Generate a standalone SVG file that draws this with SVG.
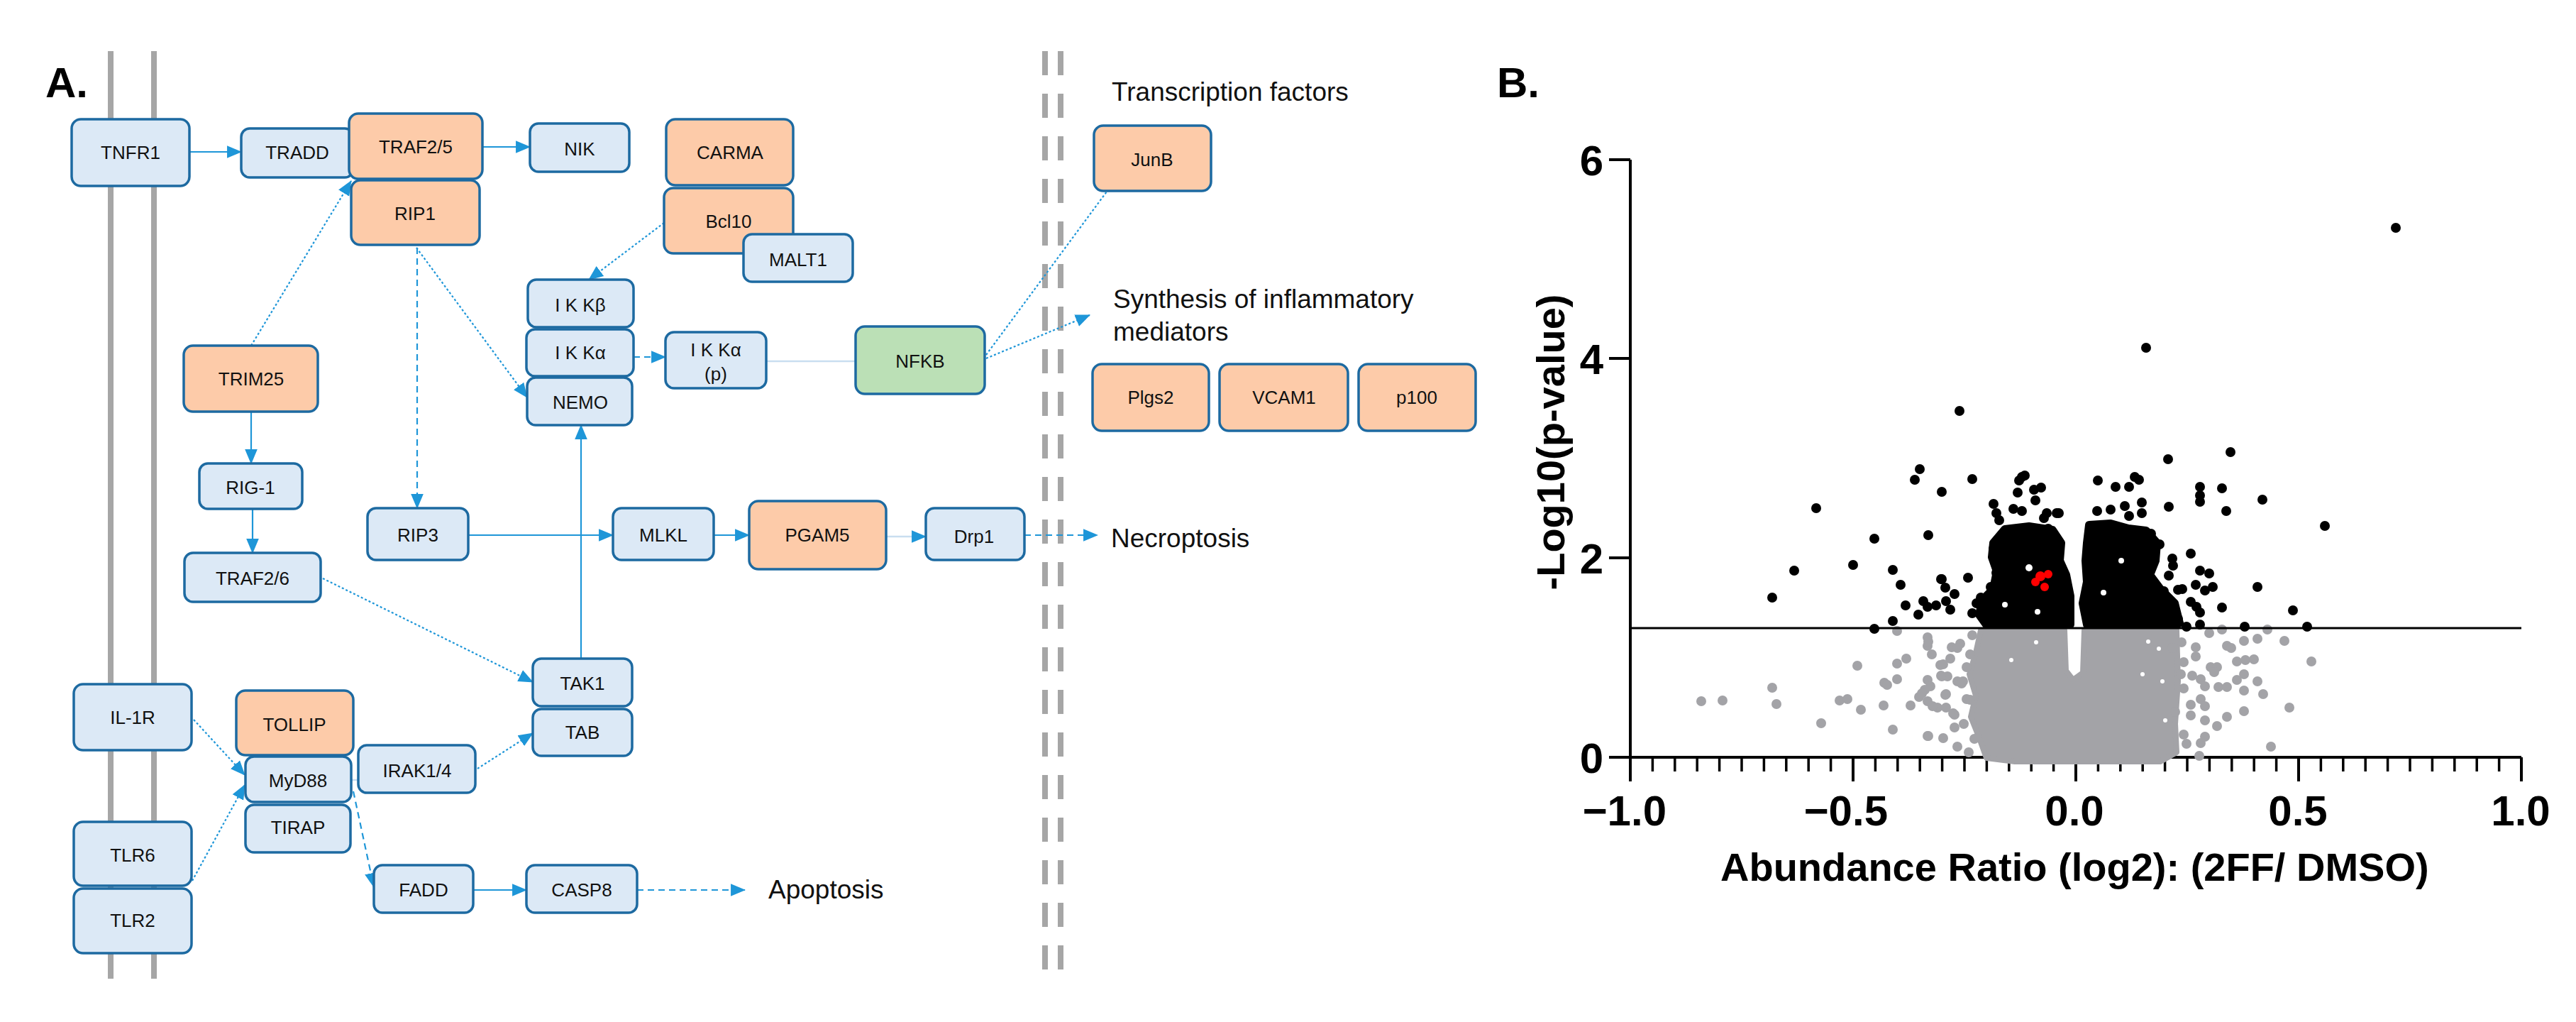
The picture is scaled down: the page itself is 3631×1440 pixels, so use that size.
<svg xmlns="http://www.w3.org/2000/svg" width="3631" height="1440" viewBox="0 0 3631 1440">
<style>
.nd rect{stroke:#1d6aa1;stroke-width:3.5}
.b rect{fill:#dce9f6}
.p rect{fill:#fdcba9}
.g rect{fill:#bbe0b6}
.nd text{font-family:"Liberation Sans",Arial,sans-serif;font-size:26px;text-anchor:middle;fill:#111}
.c{stroke:#1e96d8;stroke-width:2.2;fill:none}
.dot{stroke-dasharray:3 3}
.dash{stroke-dasharray:9 6}
.pale{stroke:#c9def0;stroke-width:2.5;fill:none}
.t{font-family:"Liberation Sans",Arial,sans-serif;font-size:37px;fill:#111}
.bold{font-family:"Liberation Sans",Arial,sans-serif;font-weight:bold;fill:#000}
.mem{stroke:#a6a6a6;stroke-width:8}
.ax{stroke:#000;stroke-width:4;fill:none}
.bk circle{fill:#000}
.gr circle{fill:#a3a3a7}
</style>
<defs>
<marker id="arr" viewBox="0 0 10 10" refX="9.5" refY="5" markerWidth="21" markerHeight="21" markerUnits="userSpaceOnUse" orient="auto"><path d="M0,0.8 L10,5 L0,9.2 z" fill="#1e96d8"/></marker>
</defs>
<rect width="3631" height="1440" fill="#fff"/>

<!-- Panel A -->
<text class="bold" x="64" y="137" font-size="60">A.</text>
<g id="membrane">
<line class="mem" x1="156" y1="72" x2="156" y2="1379"/>
<line class="mem" x1="217" y1="72" x2="217" y2="1379"/>
</g>
<g id="nucleus-border">
<line class="mem" x1="1473" y1="72" x2="1473" y2="1366" stroke-dasharray="34 26"/>
<line class="mem" x1="1495" y1="72" x2="1495" y2="1366" stroke-dasharray="34 26"/>
</g>

<g id="connectors">
<path class="c" d="M267,214 L340,214" marker-end="url(#arr)"/>
<path class="c" d="M680,207 L747,207" marker-end="url(#arr)"/>
<path class="c dot" d="M354,487 L495,255" marker-end="url(#arr)"/>
<path class="c dot" d="M587,349 L743,560" marker-end="url(#arr)"/>
<path class="c dash" d="M588,349 L588,716" marker-end="url(#arr)"/>
<path class="c dot" d="M936,314 L830,394" marker-end="url(#arr)"/>
<path class="c dash" d="M893,503 L938,503" marker-end="url(#arr)"/>
<path class="pale" d="M1080,509 L1206,509"/>
<path class="c dot" d="M1390,500 L1560,270"/>
<path class="c dot" d="M1390,505 L1536,444" marker-end="url(#arr)"/>
<path class="c" d="M354,580 L354,653" marker-end="url(#arr)"/>
<path class="c" d="M356,717 L356,779" marker-end="url(#arr)"/>
<path class="c" d="M660,754 L864,754" marker-end="url(#arr)"/>
<path class="c" d="M819,928 L819,599" marker-end="url(#arr)"/>
<path class="c" d="M1006,754 L1056,754" marker-end="url(#arr)"/>
<path class="pale" d="M1249,756 L1290,756"/>
<path class="c" d="M1290,756 L1305,756" marker-end="url(#arr)"/>
<path class="c dash" d="M1444,754 L1547,754" marker-end="url(#arr)"/>
<path class="c dot" d="M455,815 L751,961" marker-end="url(#arr)"/>
<path class="c dot" d="M273,1014 L345,1092" marker-end="url(#arr)"/>
<path class="c dot" d="M271,1241 L345,1106" marker-end="url(#arr)"/>
<path class="pale" d="M495,1099 L505,1099"/>
<path class="c dot" d="M673,1083 L751,1033" marker-end="url(#arr)"/>
<path class="c dash" d="M498,1115 L527,1250" marker-end="url(#arr)"/>
<path class="c" d="M667,1254 L742,1254" marker-end="url(#arr)"/>
<path class="c dash" d="M898,1254 L1050,1254" marker-end="url(#arr)"/>
</g>

<g id="TNFR1" class="nd b"><rect x="101" y="168" width="166" height="94" rx="13"/><text x="184" y="224">TNFR1</text></g>
<g id="TRADD" class="nd b"><rect x="340" y="181" width="158" height="69" rx="12"/><text x="419" y="224">TRADD</text></g>
<g id="TRAF25" class="nd p"><rect x="492" y="160" width="188" height="92" rx="13"/><text x="586" y="216">TRAF2/5</text></g>
<g id="RIP1" class="nd p"><rect x="495" y="254" width="181" height="91" rx="13"/><text x="585" y="310">RIP1</text></g>
<g id="NIK" class="nd b"><rect x="747" y="174" width="140" height="68" rx="12"/><text x="817" y="219">NIK</text></g>
<g id="CARMA" class="nd p"><rect x="939" y="168" width="179" height="93" rx="13"/><text x="1029" y="224">CARMA</text></g>
<g id="Bcl10" class="nd p"><rect x="936" y="265" width="182" height="92" rx="13"/><text x="1027" y="321">Bcl10</text></g>
<g id="MALT1" class="nd b"><rect x="1048" y="330" width="154" height="67" rx="12"/><text x="1125" y="375">MALT1</text></g>
<g id="IKKb" class="nd b"><rect x="744" y="394" width="149" height="67" rx="12"/><text x="818" y="439">I K Kβ</text></g>
<g id="IKKa" class="nd b"><rect x="742" y="464" width="151" height="66" rx="12"/><text x="818" y="506">I K Kα</text></g>
<g id="NEMO" class="nd b"><rect x="743" y="532" width="148" height="67" rx="12"/><text x="818" y="576">NEMO</text></g>
<g id="IKKap" class="nd b"><rect x="938" y="468" width="142" height="79" rx="12"/><text x="1009" y="502">I K Kα</text><text x="1009" y="536">(p)</text></g>
<g id="NFKB" class="nd g"><rect x="1206" y="460" width="182" height="95" rx="13"/><text x="1297" y="518">NFKB</text></g>
<g id="TRIM25" class="nd p"><rect x="259" y="487" width="189" height="93" rx="13"/><text x="354" y="543">TRIM25</text></g>
<g id="RIG1" class="nd b"><rect x="281" y="653" width="145" height="64" rx="12"/><text x="353" y="696">RIG-1</text></g>
<g id="RIP3" class="nd b"><rect x="518" y="716" width="142" height="73" rx="12"/><text x="589" y="763">RIP3</text></g>
<g id="MLKL" class="nd b"><rect x="864" y="716" width="142" height="73" rx="12"/><text x="935" y="763">MLKL</text></g>
<g id="PGAM5" class="nd p"><rect x="1056" y="706" width="193" height="96" rx="13"/><text x="1152" y="763">PGAM5</text></g>
<g id="Drp1" class="nd b"><rect x="1305" y="716" width="139" height="73" rx="12"/><text x="1373" y="765">Drp1</text></g>
<g id="TRAF26" class="nd b"><rect x="260" y="779" width="192" height="69" rx="12"/><text x="356" y="824">TRAF2/6</text></g>
<g id="TAK1" class="nd b"><rect x="751" y="928" width="140" height="67" rx="12"/><text x="821" y="972">TAK1</text></g>
<g id="TAB" class="nd b"><rect x="751" y="999" width="140" height="66" rx="12"/><text x="821" y="1041">TAB</text></g>
<g id="IL1R" class="nd b"><rect x="104" y="964" width="166" height="93" rx="13"/><text x="187" y="1020">IL-1R</text></g>
<g id="TOLLIP" class="nd p"><rect x="333" y="973" width="165" height="91" rx="13"/><text x="415" y="1030">TOLLIP</text></g>
<g id="MyD88" class="nd b"><rect x="346" y="1066" width="149" height="64" rx="12"/><text x="420" y="1109">MyD88</text></g>
<g id="TIRAP" class="nd b"><rect x="346" y="1134" width="148" height="67" rx="12"/><text x="420" y="1175">TIRAP</text></g>
<g id="IRAK14" class="nd b"><rect x="505" y="1050" width="165" height="67" rx="12"/><text x="588" y="1095">IRAK1/4</text></g>
<g id="TLR6" class="nd b"><rect x="104" y="1158" width="166" height="90" rx="13"/><text x="187" y="1214">TLR6</text></g>
<g id="TLR2" class="nd b"><rect x="104" y="1252" width="166" height="91" rx="13"/><text x="187" y="1306">TLR2</text></g>
<g id="FADD" class="nd b"><rect x="527" y="1219" width="140" height="67" rx="12"/><text x="597" y="1263">FADD</text></g>
<g id="CASP8" class="nd b"><rect x="742" y="1219" width="156" height="67" rx="12"/><text x="820" y="1263">CASP8</text></g>
<g id="JunB" class="nd p"><rect x="1542" y="177" width="165" height="92" rx="13"/><text x="1624" y="234">JunB</text></g>
<g id="Plgs2" class="nd p"><rect x="1540" y="513" width="164" height="94" rx="13"/><text x="1622" y="569">Plgs2</text></g>
<g id="VCAM1" class="nd p"><rect x="1719" y="513" width="181" height="94" rx="13"/><text x="1810" y="569">VCAM1</text></g>
<g id="p100" class="nd p"><rect x="1915" y="513" width="165" height="94" rx="13"/><text x="1997" y="569">p100</text></g>

<text class="t" x="1567" y="142">Transcription factors</text>
<text class="t" x="1569" y="434">Synthesis of inflammatory</text>
<text class="t" x="1569" y="480">mediators</text>
<text class="t" x="1566" y="771">Necroptosis</text>
<text class="t" x="1083" y="1266">Apoptosis</text>

<!-- Panel B -->
<text class="bold" x="2110" y="137" font-size="60">B.</text>
<g id="axes">
<path class="ax" d="M2298,225 L2298,1101 M2298,1067 L3554,1067"/>
<path class="ax" d="M2268,225 H2298 M2268,505 H2298 M2268,786 H2298 M2268,1067 H2298"/>
<path class="ax" d="M2612,1067 V1101 M2926,1067 V1101 M3240,1067 V1101 M3554,1067 V1101"/>
<path stroke="#000" stroke-width="3.5" d="M2329.4,1067 V1087 M2360.8,1067 V1087 M2392.2,1067 V1087 M2423.6,1067 V1087 M2455,1067 V1087 M2486.4,1067 V1087 M2517.8,1067 V1087 M2549.2,1067 V1087 M2580.6,1067 V1087 M2643.4,1067 V1087 M2674.8,1067 V1087 M2706.2,1067 V1087 M2737.6,1067 V1087 M2769,1067 V1087 M2800.4,1067 V1087 M2831.8,1067 V1087 M2863.2,1067 V1087 M2894.6,1067 V1087 M2957.4,1067 V1087 M2988.8,1067 V1087 M3020.2,1067 V1087 M3051.6,1067 V1087 M3083,1067 V1087 M3114.4,1067 V1087 M3145.8,1067 V1087 M3177.2,1067 V1087 M3208.6,1067 V1087 M3271.4,1067 V1087 M3302.8,1067 V1087 M3334.2,1067 V1087 M3365.6,1067 V1087 M3397,1067 V1087 M3428.4,1067 V1087 M3459.8,1067 V1087 M3491.2,1067 V1087 M3522.6,1067 V1087"/>
<g class="bold" font-size="60" text-anchor="end">
<text x="2260" y="247">6</text>
<text x="2260" y="527">4</text>
<text x="2260" y="808">2</text>
<text x="2260" y="1089">0</text>
</g>
<g class="bold" font-size="60">
<text x="2349" y="1163" text-anchor="end">−1.0</text>
<text x="2661" y="1163" text-anchor="end">−0.5</text>
<text x="2924" y="1163" text-anchor="middle">0.0</text>
<text x="3239" y="1163" text-anchor="middle">0.5</text>
<text x="3553" y="1163" text-anchor="middle">1.0</text>
</g>
<text class="bold" font-size="56" text-anchor="middle" transform="translate(2205,623) rotate(-90)">-Log10(p-value)</text>
<text class="bold" font-size="56" x="2425" y="1241">Abundance Ratio (log2): (2FF/ DMSO)</text>
</g>

<g id="gray-points" class="gr">
<path d="M2792,888 L2910,888 L2912,945 L2922,958 L2936,948 L2938,888 L3068,888 L3070,960 L3066,1020 L3068,1060 L3045,1073 L2840,1073 L2800,1068 L2790,1040 L2778,1010 L2785,980 L2776,950 L2785,920 Z" fill="#a3a3a7" stroke="#a3a3a7" stroke-width="8" stroke-linejoin="round"/>
<circle cx="2674" cy="889" r="7"/><circle cx="2717" cy="898" r="7"/><circle cx="2717" cy="910" r="7"/><circle cx="2723" cy="922" r="7"/>
<circle cx="2618" cy="938" r="7"/><circle cx="2674" cy="935" r="7"/><circle cx="2687" cy="928" r="7"/><circle cx="2735" cy="937" r="7"/>
<circle cx="2749" cy="928" r="7"/><circle cx="2751" cy="912" r="7"/><circle cx="2763" cy="907" r="7"/><circle cx="2737" cy="953" r="7"/>
<circle cx="2745" cy="953" r="7"/><circle cx="2717" cy="958" r="7"/><circle cx="2721" cy="967" r="7"/><circle cx="2713" cy="972" r="7"/>
<circle cx="2705" cy="982" r="7"/><circle cx="2656" cy="962" r="7"/><circle cx="2660" cy="965" r="7"/><circle cx="2674" cy="957" r="7"/>
<circle cx="2498" cy="969" r="7"/><circle cx="2398" cy="988" r="7"/><circle cx="2428" cy="987" r="7"/><circle cx="2504" cy="992" r="7"/>
<circle cx="2593" cy="987" r="7"/><circle cx="2604" cy="985" r="7"/><circle cx="2623" cy="1000" r="7"/><circle cx="2655" cy="994" r="7"/>
<circle cx="2693" cy="994" r="7"/><circle cx="2717" cy="988" r="7"/><circle cx="2731" cy="997" r="7"/><circle cx="2743" cy="997" r="7"/>
<circle cx="2743" cy="978" r="7"/><circle cx="2755" cy="1007" r="7"/><circle cx="2567" cy="1019" r="7"/><circle cx="2668" cy="1028" r="7"/>
<circle cx="2717" cy="1037" r="7"/><circle cx="2739" cy="1040" r="7"/><circle cx="2755" cy="1025" r="7"/><circle cx="2759" cy="1052" r="7"/>
<circle cx="2767" cy="960" r="7"/><circle cx="2759" cy="960" r="7"/><circle cx="2772" cy="940" r="7"/><circle cx="2772" cy="985" r="7"/>
<circle cx="2718" cy="904" r="7"/><circle cx="2759" cy="913" r="7"/><circle cx="2739" cy="936" r="7"/><circle cx="2777" cy="922" r="7"/>
<circle cx="2736" cy="952" r="7"/><circle cx="2765" cy="963" r="7"/><circle cx="2709" cy="977" r="7"/><circle cx="2742" cy="979" r="7"/>
<circle cx="2724" cy="995" r="7"/><circle cx="2777" cy="986" r="7"/><circle cx="2753" cy="1005" r="7"/><circle cx="2718" cy="1037" r="7"/>
<circle cx="2783" cy="1041" r="7"/><circle cx="2775" cy="1060" r="7"/><circle cx="2780" cy="895" r="7"/><circle cx="2768" cy="1020" r="7"/>
<circle cx="3114" cy="892" r="7"/><circle cx="3132" cy="887" r="7"/><circle cx="3196" cy="887" r="7"/><circle cx="3163" cy="903" r="7"/>
<circle cx="3182" cy="900" r="7"/><circle cx="3220" cy="903" r="7"/><circle cx="3095" cy="912" r="7"/><circle cx="3095" cy="925" r="7"/>
<circle cx="3139" cy="910" r="7"/><circle cx="3145" cy="913" r="7"/><circle cx="3153" cy="932" r="7"/><circle cx="3165" cy="930" r="7"/>
<circle cx="3177" cy="929" r="7"/><circle cx="3258" cy="932" r="7"/><circle cx="3116" cy="940" r="7"/><circle cx="3125" cy="940" r="7"/>
<circle cx="3121" cy="947" r="7"/><circle cx="3078" cy="933" r="7"/><circle cx="3163" cy="950" r="7"/><circle cx="3153" cy="958" r="7"/>
<circle cx="3182" cy="960" r="7"/><circle cx="3074" cy="950" r="7"/><circle cx="3090" cy="952" r="7"/><circle cx="3102" cy="957" r="7"/>
<circle cx="3108" cy="967" r="7"/><circle cx="3127" cy="968" r="7"/><circle cx="3139" cy="968" r="7"/><circle cx="3163" cy="973" r="7"/>
<circle cx="3190" cy="978" r="7"/><circle cx="3078" cy="970" r="7"/><circle cx="3102" cy="985" r="7"/><circle cx="3088" cy="993" r="7"/>
<circle cx="3108" cy="995" r="7"/><circle cx="3163" cy="1002" r="7"/><circle cx="3227" cy="997" r="7"/><circle cx="3088" cy="1008" r="7"/>
<circle cx="3108" cy="1015" r="7"/><circle cx="3125" cy="1023" r="7"/><circle cx="3139" cy="1010" r="7"/><circle cx="3078" cy="1035" r="7"/>
<circle cx="3082" cy="1048" r="7"/><circle cx="3102" cy="1047" r="7"/><circle cx="3108" cy="1038" r="7"/><circle cx="3201" cy="1052" r="7"/>
<circle cx="3100" cy="1065" r="7"/><circle cx="3066" cy="1003" r="7"/><circle cx="3062" cy="913" r="7"/><circle cx="3075" cy="905" r="7"/>
</g>
<g fill="#fff">
<circle cx="2924" cy="900" r="4"/><circle cx="2920" cy="925" r="4"/><circle cx="3028" cy="904" r="3"/><circle cx="3043" cy="914" r="3"/><circle cx="3020" cy="950" r="3"/><circle cx="3048" cy="960" r="3"/><circle cx="3052" cy="1015" r="3"/><circle cx="2870" cy="905" r="3"/><circle cx="2835" cy="930" r="3"/>
</g>

<line x1="2298" y1="885" x2="3554" y2="885" stroke="#000" stroke-width="3"/>

<g id="black-points" class="bk">
<path d="M2826,746 L2860,742 L2893,747 L2905,765 L2903,790 L2912,810 L2918,840 L2918,880 L2800,880 L2790,866 L2795,845 L2810,830 L2815,805 L2808,785 L2810,765 Z" fill="#000" stroke="#000" stroke-width="12" stroke-linejoin="round"/>
<path d="M2945,740 L2975,738 L3000,745 L3025,748 L3040,765 L3038,790 L3030,810 L3045,830 L3065,850 L3072,878 L2942,880 L2936,850 L2942,820 L2940,790 L2942,765 Z" fill="#000" stroke="#000" stroke-width="12" stroke-linejoin="round"/>
<circle cx="3377" cy="321" r="7"/><circle cx="3025" cy="490" r="7"/><circle cx="2762" cy="579" r="7"/><circle cx="2706" cy="661" r="7"/>
<circle cx="3056" cy="647" r="7"/><circle cx="3144" cy="637" r="7"/><circle cx="2699" cy="676" r="7"/><circle cx="2780" cy="675" r="7"/>
<circle cx="2737" cy="693" r="7"/><circle cx="2560" cy="716" r="7"/><circle cx="2642" cy="759" r="7"/><circle cx="2718" cy="754" r="7"/>
<circle cx="2612" cy="796" r="7"/><circle cx="2529" cy="804" r="7"/><circle cx="2668" cy="803" r="7"/><circle cx="2679" cy="824" r="7"/>
<circle cx="2498" cy="842" r="7"/><circle cx="2737" cy="816" r="7"/><circle cx="2774" cy="814" r="7"/><circle cx="2742" cy="828" r="7"/>
<circle cx="2755" cy="837" r="7"/><circle cx="2686" cy="853" r="7"/><circle cx="2711" cy="847" r="7"/><circle cx="2717" cy="855" r="7"/>
<circle cx="2729" cy="853" r="7"/><circle cx="2743" cy="847" r="7"/><circle cx="2749" cy="859" r="7"/><circle cx="2704" cy="866" r="7"/>
<circle cx="2668" cy="875" r="7"/><circle cx="2642" cy="886" r="7"/><circle cx="2780" cy="864" r="7"/><circle cx="2799" cy="873" r="7"/>
<circle cx="2792" cy="842" r="7"/><circle cx="2786" cy="850" r="7"/><circle cx="2806" cy="827" r="7"/><circle cx="2736" cy="816" r="7"/>
<circle cx="2850" cy="672" r="7"/><circle cx="2846" cy="677" r="7"/><circle cx="2854" cy="670" r="7"/><circle cx="2844" cy="694" r="7"/>
<circle cx="2867" cy="690" r="7"/><circle cx="2877" cy="687" r="7"/><circle cx="2869" cy="705" r="7"/><circle cx="2810" cy="710" r="7"/>
<circle cx="2814" cy="723" r="7"/><circle cx="2818" cy="733" r="7"/><circle cx="2838" cy="717" r="7"/><circle cx="2850" cy="720" r="7"/>
<circle cx="2885" cy="723" r="7"/><circle cx="2899" cy="723" r="7"/><circle cx="2881" cy="730" r="7"/><circle cx="2887" cy="745" r="7"/>
<circle cx="2810" cy="773" r="7"/><circle cx="2814" cy="780" r="7"/><circle cx="2826" cy="760" r="7"/><circle cx="2838" cy="757" r="7"/>
<circle cx="2861" cy="753" r="7"/><circle cx="2869" cy="750" r="7"/><circle cx="2881" cy="757" r="7"/><circle cx="2893" cy="753" r="7"/>
<circle cx="2901" cy="783" r="7"/><circle cx="2814" cy="807" r="7"/><circle cx="2916" cy="870" r="7"/>
<circle cx="2957" cy="677" r="7"/><circle cx="2982" cy="686" r="7"/><circle cx="3001" cy="686" r="7"/><circle cx="3009" cy="672" r="7"/>
<circle cx="3015" cy="676" r="7"/><circle cx="3101" cy="686" r="7"/><circle cx="3101" cy="698" r="7"/><circle cx="3101" cy="707" r="7"/>
<circle cx="3132" cy="688" r="7"/><circle cx="3189" cy="704" r="7"/><circle cx="2902" cy="723" r="7"/><circle cx="2956" cy="720" r="7"/>
<circle cx="2975" cy="718" r="7"/><circle cx="2995" cy="713" r="7"/><circle cx="3001" cy="727" r="7"/><circle cx="3019" cy="708" r="7"/>
<circle cx="3019" cy="723" r="7"/><circle cx="3057" cy="714" r="7"/><circle cx="3138" cy="720" r="7"/><circle cx="3277" cy="741" r="7"/>
<circle cx="2963" cy="742" r="7"/><circle cx="2982" cy="751" r="7"/><circle cx="2949" cy="757" r="7"/><circle cx="3007" cy="755" r="7"/>
<circle cx="3017" cy="757" r="7"/><circle cx="3032" cy="752" r="7"/><circle cx="3044" cy="767" r="7"/><circle cx="2957" cy="770" r="7"/>
<circle cx="3088" cy="780" r="7"/><circle cx="3062" cy="787" r="7"/><circle cx="3063" cy="797" r="7"/><circle cx="3057" cy="811" r="7"/>
<circle cx="3101" cy="804" r="7"/><circle cx="3114" cy="808" r="7"/><circle cx="3182" cy="827" r="7"/><circle cx="3095" cy="824" r="7"/>
<circle cx="3108" cy="832" r="7"/><circle cx="3119" cy="827" r="7"/><circle cx="3050" cy="833" r="7"/><circle cx="3070" cy="831" r="7"/>
<circle cx="3076" cy="830" r="7"/><circle cx="3062" cy="853" r="7"/><circle cx="3088" cy="848" r="7"/><circle cx="3096" cy="855" r="7"/>
<circle cx="3101" cy="863" r="7"/><circle cx="3132" cy="856" r="7"/><circle cx="3232" cy="860" r="7"/><circle cx="3082" cy="883" r="7"/>
<circle cx="3101" cy="880" r="7"/><circle cx="3164" cy="883" r="7"/><circle cx="3252" cy="883" r="7"/><circle cx="2902" cy="780" r="7"/>
<circle cx="2902" cy="827" r="7"/><circle cx="2904" cy="850" r="7"/><circle cx="3050" cy="870" r="7"/><circle cx="3070" cy="872" r="7"/>
<circle cx="3058" cy="872" r="7"/><circle cx="3040" cy="865" r="7"/>
</g>
<g fill="#fff">
<circle cx="2860" cy="800" r="5"/><circle cx="2826" cy="852" r="4"/><circle cx="2872" cy="862" r="4"/><circle cx="2990" cy="790" r="4"/><circle cx="2965" cy="835" r="4"/>
</g>
<g id="red-point" fill="#ff0000">
<circle cx="2876" cy="812" r="7"/><circle cx="2887" cy="809" r="6"/><circle cx="2869" cy="820" r="6"/><circle cx="2882" cy="827" r="6"/>
</g>
</svg>
